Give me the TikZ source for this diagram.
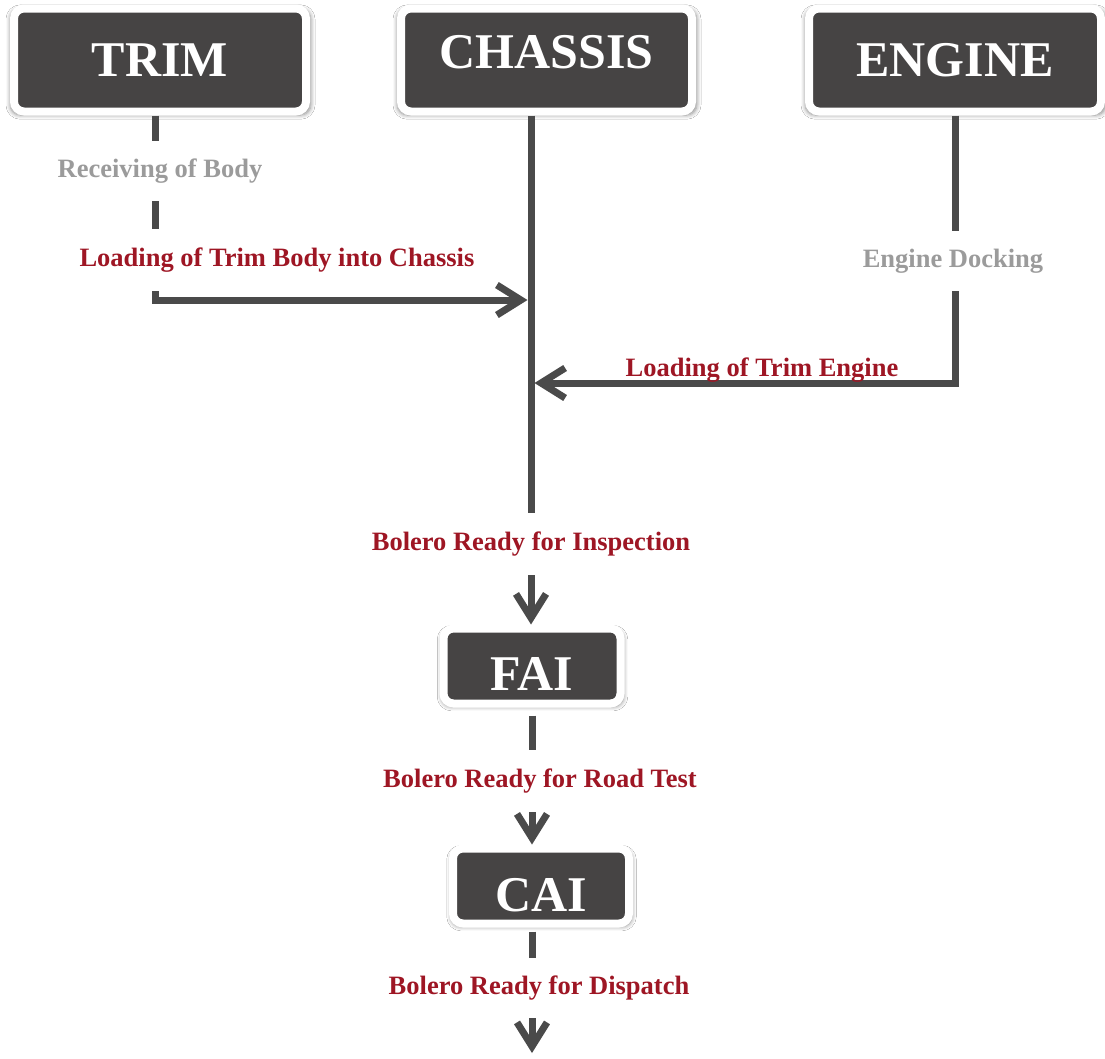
\documentclass[tikz,border=0pt]{standalone}
\usepackage{fontspec}
\setmainfont{Liberation Serif}
\usetikzlibrary{arrows.meta,shadows.blur}
\definecolor{boxgray}{RGB}{70,68,68}
\definecolor{linegray}{RGB}{74,74,74}
\definecolor{labred}{RGB}{158,22,36}
\definecolor{labgray}{RGB}{155,155,155}
\tikzset{
  stage/.style={fill=boxgray, draw=white, line width=8pt, rounded corners=10pt,
    blur shadow={shadow xshift=0.5pt, shadow yshift=-2pt, shadow scale=1.03,
      shadow opacity=45, shadow blur radius=4pt, shadow blur steps=6},
    text=white, font=\bfseries\fontsize{50}{50}\selectfont, inner sep=0pt,
    text height=33pt, text depth=0pt, align=center},
  redlab/.style={text=labred, font=\bfseries\fontsize{26.5}{27}\selectfont, inner sep=0pt, minimum height=62pt},
  graylab/.style={text=labgray, font=\bfseries\fontsize{26.5}{27}\selectfont, inner sep=0pt, minimum height=60pt},
  conn/.style={draw=linegray, line width=7pt},
  arr/.style={conn, -{Straight Barb[length=24pt, width=30pt]}},
}
\begin{document}
\begin{tikzpicture}[x=1pt, y=-1pt]
\fill[white] (0,0) rectangle (1105,1058);
\useasboundingbox (0,0) rectangle (1105,1058);

% stage boxes
\node[stage, minimum width=292pt, minimum height=103pt] (trim) at (160,60) {TRIM};
\node[stage, minimum width=291pt, minimum height=103pt, text depth=16pt] (chassis) at (546.5,60) {CHASSIS};
\node[stage, minimum width=292pt, minimum height=103pt] (engine) at (955,60) {ENGINE};
\node[stage, minimum width=177pt, minimum height=75pt, text height=49pt] (fai) at (532,666) {FAI};
\node[stage, minimum width=176pt, minimum height=75pt, text height=51pt] (cai) at (541,886) {CAI};

% labels
\node[graylab] (recv) at (160,171) {Receiving of Body};
\node[redlab] (loadbody) at (277,260) {Loading of Trim Body into Chassis};
\node[graylab] (dock) at (953,261) {Engine Docking};
\node[redlab] (inspect) at (531,544) {Bolero Ready for Inspection};
\node[redlab] (road) at (540,781) {Bolero Ready for Road Test};
\node[redlab, minimum height=60pt] (dispatch) at (539,988) {Bolero Ready for Dispatch};

% helper coordinates
\coordinate (tl) at (155,300);
\coordinate (el) at (955,383);
\coordinate (fin) at (532,1053);

% trim branch
\draw[conn] (trim.south -| tl) -- (tl |- recv.north);
\draw[conn] (tl |- recv.south) -- (tl |- loadbody.north);
\draw[arr, shorten >=3.5pt] (tl |- loadbody.south) -- (tl) -- (tl -| inspect);

% chassis spine
\draw[conn] (chassis.south -| inspect) -- (inspect.north);

% engine branch
\draw[conn] (engine.south -| el) -- (el |- dock.north);
\draw[arr, shorten >=3.5pt] (el |- dock.south) -- (el) -- (el -| inspect);
\node[text=labred, font=\bfseries\fontsize{26.5}{27}\selectfont, inner sep=0pt] (loadeng) at (762,370) {Loading of Trim Engine};

% inspection chain
\draw[arr] (inspect.south) -- (inspect.south |- fai.north);
\draw[conn, shorten <=8pt] (fai.south) -- (fai.south |- road.north);
\draw[arr] (fai |- road.south) -- (fai |- cai.north);
\draw[conn, shorten <=4pt] (cai.south -| fai) -- (fai |- dispatch.north);
\draw[arr] (fai |- dispatch.south) -- (fin);
\end{tikzpicture}
\end{document}
